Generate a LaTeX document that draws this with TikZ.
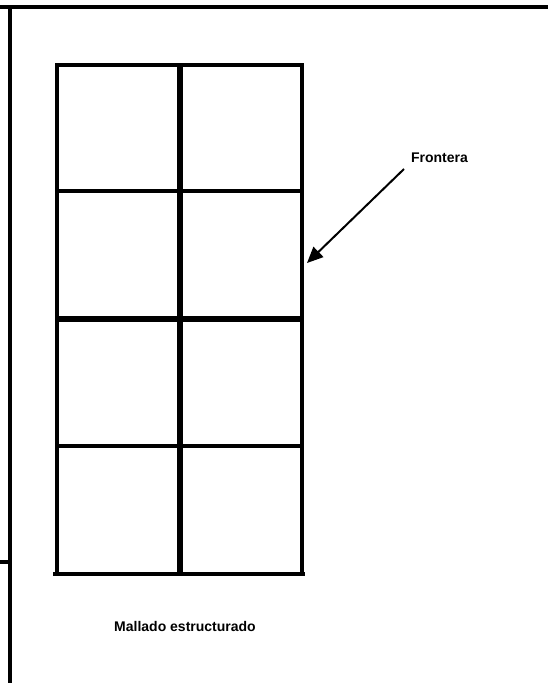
\documentclass[tikz,border=0pt]{standalone}
\usepackage{fontspec}
\setmainfont{Liberation Sans}
\usetikzlibrary{arrows.meta}
\begin{document}
\begin{tikzpicture}[x=1pt,y=-1pt,
  frame/.style={line width=4pt},
  gridthin/.style={line width=4pt},
  gridthick/.style={line width=6pt},
  lbl/.style={font=\bfseries\fontsize{14}{16}\selectfont, inner sep=0pt},
  pointer/.style={line width=2pt,-{Triangle[length=16pt,width=14pt]}}]
\useasboundingbox (0,0) rectangle (548,683);
% frame lines
\draw[frame] (0,7) -- (548,7);
\draw[frame] (10,5) -- (10,683);
\draw[line width=3.5pt] (0,562) -- (10,562);
% grid
\draw[gridthin] (57,65) -- (57,576);
\draw[gridthin] (302,63) -- (302,576);
\draw[gridthick] (180,63) -- (180,576);
\draw[gridthin] (55,65) -- (304,65);
\draw[gridthin] (55,191) -- (304,191);
\draw[gridthick] (55,319) -- (304,319);
\draw[gridthin] (55,446) -- (304,446);
\draw[gridthin] (53,574) -- (305,574);
% labels
\node[lbl] (frontera) at (439.5,158) {Frontera};
\node[lbl] (mallado) at (185,626) {Mallado estructurado};
\coordinate (start) at (404,169);
\coordinate (tip) at (307,263);
\draw[pointer] (start) -- (tip);
\end{tikzpicture}
\end{document}
